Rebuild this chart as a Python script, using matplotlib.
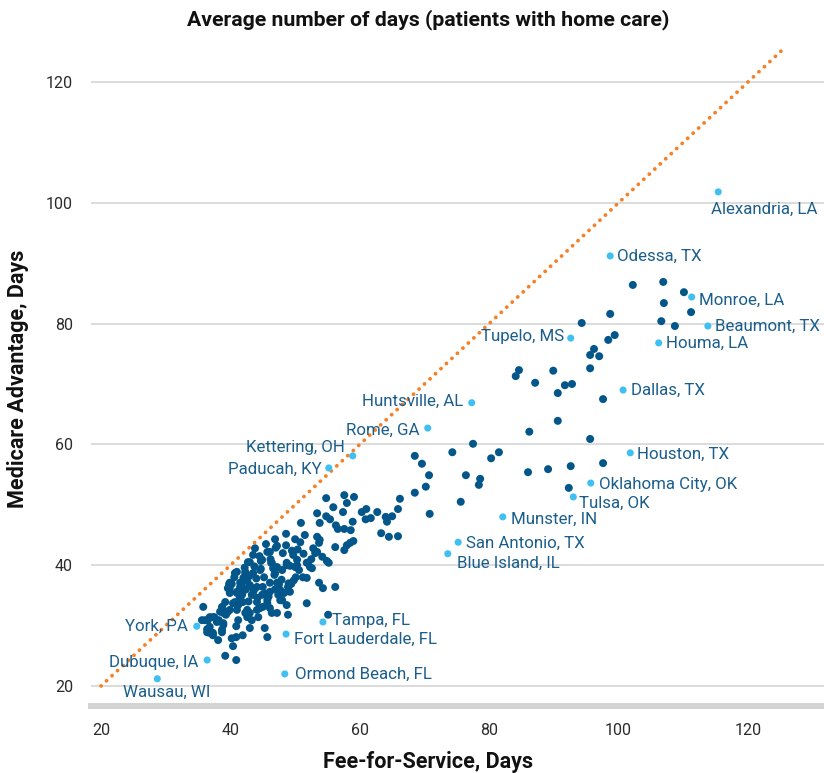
import matplotlib
matplotlib.use("Agg")
import matplotlib.pyplot as plt
import numpy as np

plt.rcParams['font.family'] = ['Roboto', 'DejaVu Sans']

# ---------------- data ----------------
dark_x = [102.2,106.9,110.1,107.0,111.2,106.6,108.7,98.7,94.3,99.4,98.4,96.2,95.6,97.0,95.6,84.6,84.1,89.9,87.1,91.7,
          92.8,90.6,97.6,90.6,86.2,95.6,77.5,74.3,81.5,80.3,76.4,78.6,78.4,75.6,86.0,89.1,92.6,97.6,92.3,
          68.5,69.6,70.7,70.2,68.5,70.8,66.2,65.9,62.7,64.0,65.0,64.2,61.7,60.9,60.3,61.0,63.3,64.5,65.9,
          57.6,59.1,58.0,54.8,55.9,57.4,53.4,54.8,55.4,56.3,58.9,53.8,56.6,57.6,58.6,50.9,51.5,48.6,46.9,
          50.0,50.8,53.4,53.8,53.7,58.5,58.0,59.0,56.2,57.6,52.8,53.1,48.6,47.2,49.5,55.2,
          43.8,45.7,46.1,48.1,49.7,53.4,43.5,42.7,44.9,46.4,47.2,48.7,50.3,51.8,50.0,52.6,44.6,43.5,42.3,
          40.7,39.9,41.5,42.6,43.0,43.8,45.0,46.1,47.2,47.7,48.9,46.1,44.9,43.3,41.9,41.0,39.9,39.2,40.7,
          41.9,44.1,45.7,44.6,47.7,49.2,51.8,53.7,54.3,47.2,42.3,43.3,41.2,39.6,38.4,37.3,35.8,35.6,36.5,
          37.9,38.9,36.8,36.4,37.3,38.7,40.2,43.0,45.3,45.7,40.9,
          56.2,55.1,48.9,41.9,40.9,40.4,39.2,40.9,38.7,38.1,54.9,54.2,52.5,52.0,52.3,51.2,51.8,49.8,50.1,
          36.1,36.8,37.5,36.4,36.8,37.3,38.9,39.3,39.5,38.7,38.2,38.9,39.9,40.4,41.0,41.2,42.6,42.6,43.0,
          44.1,44.3,45.0,45.7,46.1,46.4,47.4,48.0,48.7,41.0,41.9,40.2,39.9,41.5,41.9,41.0,41.8,43.5,44.1,
          43.0,44.7,44.7,46.3,46.6,48.0,46.9,48.7,49.2,50.3,50.6,42.3,40.6,39.8,39.6,
          42.0,42.9,44.0,45.2,46.8,47.9,49.0,42.4,43.6,45.4,46.9,48.3,44.2,45.9,47.5,49.4,41.4,42.8,
          44.5,46.2,45.5,47.0,50.4,51.3,43.7,42.2]
dark_y = [86.4,86.9,85.2,83.4,81.9,80.4,79.6,81.6,80.1,78.1,77.3,75.8,74.8,74.6,72.6,72.3,71.3,72.2,70.2,69.8,
          70.0,68.5,67.5,63.9,62.1,60.9,60.1,58.7,58.7,57.7,54.9,54.3,53.3,50.5,55.4,55.9,56.4,56.9,52.8,
          58.1,56.8,54.9,53.0,52.0,48.5,51.0,49.3,48.8,48.0,48.1,47.2,47.8,47.6,48.8,49.3,45.3,44.7,44.8,
          51.6,51.3,50.3,51.1,49.6,48.8,48.6,48.1,47.6,46.6,47.2,47.0,46.0,46.0,45.8,47.0,45.0,45.2,44.3,
          44.3,43.8,44.7,44.2,43.7,43.7,43.3,44.0,43.0,42.5,42.8,42.0,43.3,43.2,42.4,40.4,
          42.8,42.2,42.2,42.0,41.7,42.2,41.7,40.5,40.9,40.4,39.7,40.0,40.9,40.4,39.7,39.5,39.2,38.7,38.7,
          38.7,37.1,37.1,37.5,36.7,36.2,36.4,37.1,37.1,35.9,36.4,35.6,35.1,35.1,35.6,35.6,35.4,33.9,33.9,
          33.9,33.9,34.2,32.9,34.2,35.6,33.7,37.1,36.2,32.1,32.1,30.9,30.9,32.3,32.3,31.4,33.1,30.9,30.9,
          30.6,30.1,29.8,28.9,28.8,29.3,27.9,29.6,29.6,28.1,29.9,
          36.4,31.8,31.8,28.4,28.1,26.6,25.0,24.3,28.9,27.6,40.7,41.4,41.0,40.4,39.7,38.0,37.9,37.5,38.0,
          30.9,31.4,31.4,29.4,28.8,28.4,32.1,31.8,32.3,33.1,30.9,30.4,32.6,33.7,32.6,33.4,32.6,31.4,32.1,
          32.6,31.4,33.1,33.7,32.9,32.1,35.1,34.2,33.4,38.9,37.2,36.9,36.2,36.4,36.2,35.4,35.1,35.1,36.4,
          40.5,40.7,39.4,40.4,39.5,39.2,38.7,40.4,39.9,40.0,39.2,38.9,38.0,36.9,36.2,
          37.9,38.2,37.8,38.0,38.4,37.6,37.0,36.0,35.8,35.3,36.0,35.4,34.6,34.8,36.8,36.9,34.4,34.0,
          41.5,41.0,43.5,42.9,42.6,41.9,39.8,39.6]

cities = ["Alexandria, LA", "Odessa, TX", "Monroe, LA", "Beaumont, TX", "Houma, LA", "Tupelo, MS",
          "Dallas, TX", "Huntsville, AL", "Rome, GA", "Kettering, OH", "Paducah, KY", "Houston, TX",
          "Oklahoma City, OK", "Tulsa, OK", "Munster, IN", "San Antonio, TX", "Blue Island, IL",
          "Tampa, FL", "Fort Lauderdale, FL", "Ormond Beach, FL", "York, PA", "Dubuque, IA", "Wausau, WI"]
city_x = [115.4, 98.7, 111.3, 113.8, 106.2, 92.6, 100.7, 77.3, 70.5, 58.9, 55.2, 101.8,
          95.7, 93.0, 82.1, 75.2, 73.6, 54.3, 48.6, 48.4, 34.8, 36.4, 28.7]
city_y = [101.8, 91.2, 84.4, 79.6, 76.8, 77.6, 69.0, 66.9, 62.7, 58.1, 56.1, 58.6,
          53.6, 51.3, 48.0, 43.8, 41.9, 30.6, 28.6, 22.0, 29.9, 24.3, 21.2]

# label placement (pixel offsets, alignment)
offsets = [(-7, -17, 'left'), (7, 0, 'left'), (7, -3, 'left'), (7, 0, 'left'), (7, 0, 'left'),
           (-7, 2, 'right'), (8, 0, 'left'), (-8, 1, 'right'), (-8, -2, 'right'), (-8, 8, 'right'),
           (-7, -1, 'right'), (7, -1, 'left'), (8, -1, 'left'), (6, -6, 'left'), (8, -2, 'left'),
           (8, -1, 'left'), (9, -10, 'left'), (9, 1, 'left'), (8, -5, 'left'), (10, 0, 'left'),
           (-9, 0, 'right'), (-9, -2, 'right'), (-34, -14, 'left')]

line_range = [20, 125.2]
yticks = [20, 40, 60, 80, 100, 120]
xticks = [20, 40, 60, 80, 100, 120]

# ---------------- figure ----------------
W, H = 824, 773
fig = plt.figure(figsize=(W / 100, H / 100), dpi=100)
ax_l, ax_r, ax_b, ax_t = 91, 824, 706, 40
ax = fig.add_axes([ax_l / W, (H - ax_b) / H, (ax_r - ax_l) / W, (ax_b - ax_t) / H])
ax.set_xlim(18.45, 131.75)
ax.set_ylim(16.69, 126.95)

for yv in yticks:
    ax.axhline(yv, color='#d9d9d9', lw=1.3, zorder=0)

ax.plot(line_range, line_range, color='#f58025', lw=2.7, linestyle=(0, (0.05, 1.95)),
        dash_capstyle='round', zorder=1)

ax.scatter(dark_x, dark_y, s=33, color='#03568a', edgecolors='none', zorder=3)
ax.scatter(city_x, city_y, s=26, color='#3fc0f0', edgecolors='none', zorder=3)

label_color = '#1b5e8c'
for name, x, y, (dx, dy, ha) in zip(cities, city_x, city_y, offsets):
    ax.annotate(name, (x, y), xytext=(dx, dy), textcoords='offset pixels',
                ha=ha, va='center', fontsize=12.2, color=label_color, zorder=4)

for s in ['top', 'right', 'left']:
    ax.spines[s].set_visible(False)
ax.spines['bottom'].set_color('#d3d3d3')
ax.spines['bottom'].set_linewidth(4.3)

ax.set_xticks(xticks)
ax.set_yticks(yticks)
ax.tick_params(axis='both', length=0, labelsize=11.5, labelcolor='#2b2b2b')
ax.tick_params(axis='x', pad=12)
ax.tick_params(axis='y', pad=13)

fig.text(428 / W, 1 - 20 / H, "Average number of days (patients with home care)",
         ha='center', va='center', fontsize=15.3, fontweight='bold', color='#111111')
fig.text(428 / W, 1 - 762 / H, "Fee-for-Service, Days",
         ha='center', va='center', fontsize=15.5, fontweight='bold', color='#111111')
fig.text(18 / W, 1 - 379 / H, "Medicare Advantage, Days", rotation=90,
         ha='center', va='center', fontsize=15.5, fontweight='bold', color='#111111')

fig.savefig('out.png', dpi=100)
